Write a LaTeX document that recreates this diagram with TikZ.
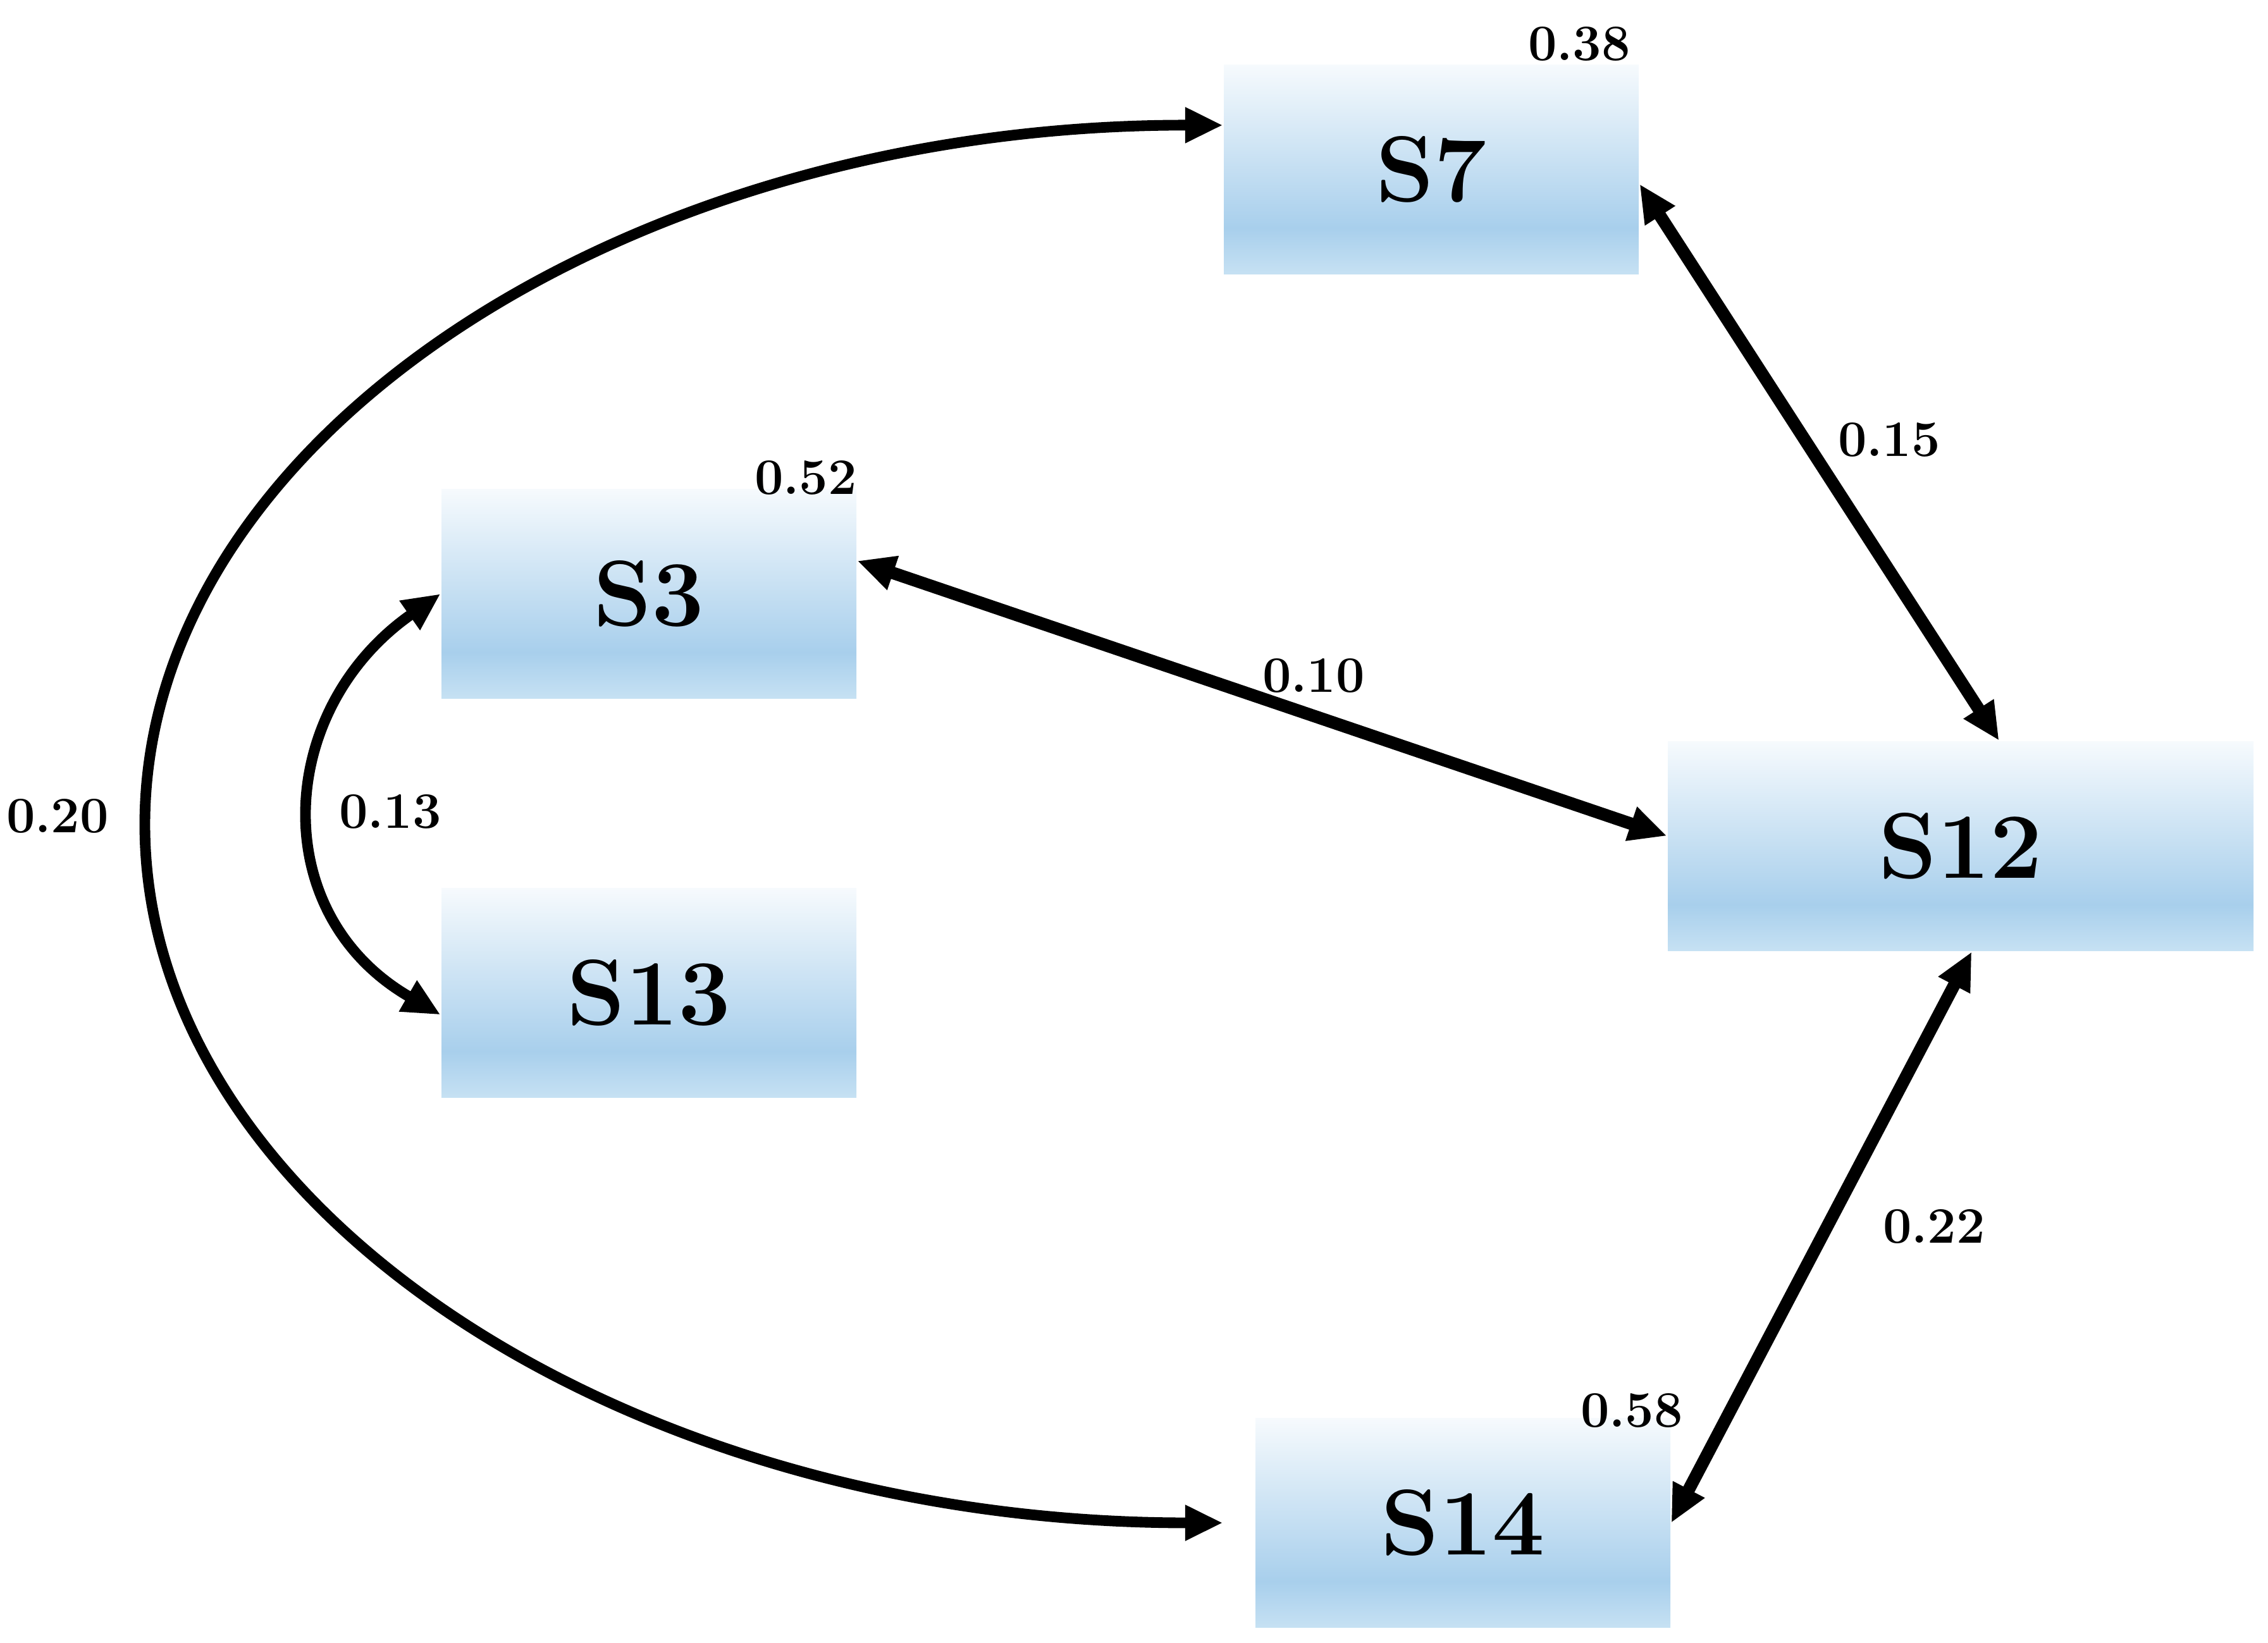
\documentclass[tikz,border=0pt]{standalone}
\usepackage{tikz}
\usetikzlibrary{arrows.meta}

\definecolor{boxtop}{RGB}{246,250,253}
\definecolor{boxmid}{RGB}{168,207,236}
\definecolor{boxbot}{RGB}{198,225,243}
\pgfdeclareverticalshading{boxshade}{100bp}{color(0bp)=(boxbot); color(25bp)=(boxbot); color(36bp)=(boxmid); color(75bp)=(boxtop); color(100bp)=(boxtop)}

\tikzset{
  sbox/.style={shade, shading=boxshade, minimum width=3.28cm, minimum height=1.655cm, inner sep=0pt, font=\fontsize{21}{25}\selectfont\bfseries},
  wt/.style={font=\fontsize{11.5}{13}\selectfont\bfseries},
  dbl/.style={line width=2.8pt, {Triangle[length=8.5pt,width=7.5pt]}-{Triangle[length=8.5pt,width=7.5pt]}}
}

\begin{document}
\begin{tikzpicture}
\useasboundingbox (0,0) rectangle (17.93,12.985);

\node[sbox] (S7) at (11.315, 11.645) {S7};
\node[sbox] (S3) at (5.13, 8.29) {S3};
\node[sbox] (S13) at (5.13, 5.135) {S13};
\node[sbox, minimum width=4.63cm] (S12) at (15.50, 6.295) {S12};
\node[sbox] (S14) at (11.565, 0.945) {S14};

\node[wt] (w38) at (12.485, 12.64) {0.38};
\node[wt] (w52) at (6.37, 9.21) {0.52};
\node[wt] (w15) at (14.935, 9.51) {0.15};
\node[wt] (w10) at (10.385, 7.645) {0.10};
\node[wt] (w13) at (3.085, 6.57) {0.13};
\node[wt] (w20) at (0.455, 6.535) {0.20};
\node[wt] (w22) at (15.29, 3.29) {0.22};
\node[wt] (w58) at (12.9, 1.835) {0.58};

\coordinate (far) at (1.145, 6.465);

\foreach \p/\q in {S7.-4/S12.70, S3.9/S12.178, S12.-84/S14.east}
{\draw[dbl] (\p) -- (\q);}
\draw[dbl, line width=2.4pt] (S3.west) to[out=215, in=150, looseness=1.23] (S13.186);
\draw[dbl, line width=2.4pt] (S7.168) .. controls (4.965, 12.0) and (1.145, 9.525) .. (far)
  .. controls (1.145, 3.42) and (4.965, 0.945) .. ([xshift=-0.25cm]S14.west);
\end{tikzpicture}
\end{document}
